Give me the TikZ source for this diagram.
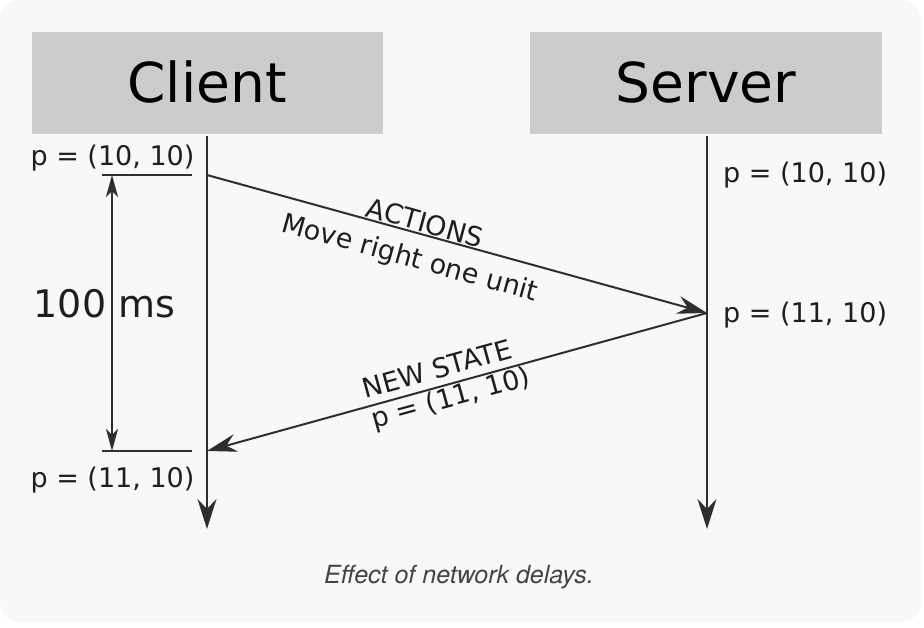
\documentclass[tikz,border=0pt]{standalone}
\usepackage{fontspec}
\setmainfont{DejaVu Sans}
\newfontfamily\capfont{TeX Gyre Heros}
\usetikzlibrary{arrows.meta}
\definecolor{bgpanel}{HTML}{F8F8F8}
\definecolor{boxgray}{HTML}{CCCCCC}
\definecolor{linecol}{HTML}{2E2E2E}
\definecolor{txtcol}{HTML}{1E1E1E}
\definecolor{capcol}{HTML}{444444}
\tikzset{
  actor/.style={fill=boxgray, draw=none, minimum width=351pt, minimum height=102pt, inner sep=0pt, text=black, font=\fontsize{55}{60}\selectfont},
  lbl/.style={text=txtcol, font=\fontsize{27}{32}\selectfont, inner sep=0pt},
  slbl/.style={text=txtcol, font=\fontsize{27}{31}\selectfont, inner sep=0pt, sloped},
  life/.style={draw=linecol, line width=2pt, -{Stealth[length=30pt,width=19pt,inset=10pt]}},
  msg/.style={draw=linecol, line width=2pt, -{Stealth[length=30pt,width=18pt,inset=10pt]}},
  tick/.style={draw=linecol, line width=2pt},
  span/.style={draw=linecol, line width=2pt, {Stealth[length=22pt,width=12pt,inset=6pt]}-{Stealth[length=22pt,width=12pt,inset=6pt]}},
}
\begin{document}
\begin{tikzpicture}[x=1pt,y=-1pt]
\useasboundingbox (0,0) rectangle (924,628);
\fill[white] (0,0) rectangle (924,628);
\fill[bgpanel, rounded corners=20pt] (0,0) rectangle (921,622);

\node[actor] (client) at (207.5,83) {};
\node[actor, minimum width=352pt] (server) at (706,83) {};
\node[text=black, font=\fontsize{55}{60}\selectfont, inner sep=0pt, anchor=base] (clientT) at (207,103) {Client};
\node[text=black, font=\fontsize{55}{60}\selectfont, inner sep=0pt, anchor=base] (serverT) at (706,103) {Server};

\coordinate (ctop) at (207,136);
\coordinate (cbot) at (207,529);
\coordinate (stop) at (707,136);
\coordinate (sbot) at (707,529);
\coordinate (c1) at (207,175);
\coordinate (s1) at (707,313);
\coordinate (c2) at (207,451);
\coordinate (t1a) at (102,175);
\coordinate (t1b) at (192,175);
\coordinate (t2a) at (102,451);
\coordinate (t2b) at (192,451);
\coordinate (m1) at (112,175);
\coordinate (m2) at (112,451);

\draw[life] (ctop) -- (cbot);
\draw[life] (stop) -- (sbot);
\draw[tick] (t1a) -- (t1b);
\draw[tick] (t2a) -- (t2b);
\draw[span] (m1) -- (m2);

\draw[msg] (c1) -- (s1);
\draw[msg] (s1) -- (c2);

\path (c1) -- (s1)
  node[slbl, pos=0.43, above, outer sep=2pt] (act) {ACTIONS}
  node[slbl, pos=0.42, below, outer sep=14pt] (mv) {Move right one unit};
\path (c2) -- (s1)
  node[slbl, pos=0.47, above, outer sep=8pt] (ns) {NEW STATE}
  node[slbl, pos=0.48, below, outer sep=2pt] (np) {p = (11, 10)};

\node[lbl, anchor=base] (cp1) at (112.5,166) {p = (10, 10)};
\node[lbl, anchor=base] (cp2) at (112.5,487) {p = (11, 10)};
\node[lbl, anchor=base west] (sp1) at (723,183) {p = (10, 10)};
\node[lbl, anchor=base west] (sp2) at (723,323) {p = (11, 10)};

\node[text=txtcol, font=\fontsize{38}{44}\selectfont, inner sep=0pt, anchor=base] (delay) at (104.5,318) {100 ms};

\node[text=capcol, font=\capfont\itshape\fontsize{25}{30}\selectfont, inner sep=0pt, anchor=base] (cap) at (459,583) {Effect of network delays.};
\end{tikzpicture}
\end{document}
